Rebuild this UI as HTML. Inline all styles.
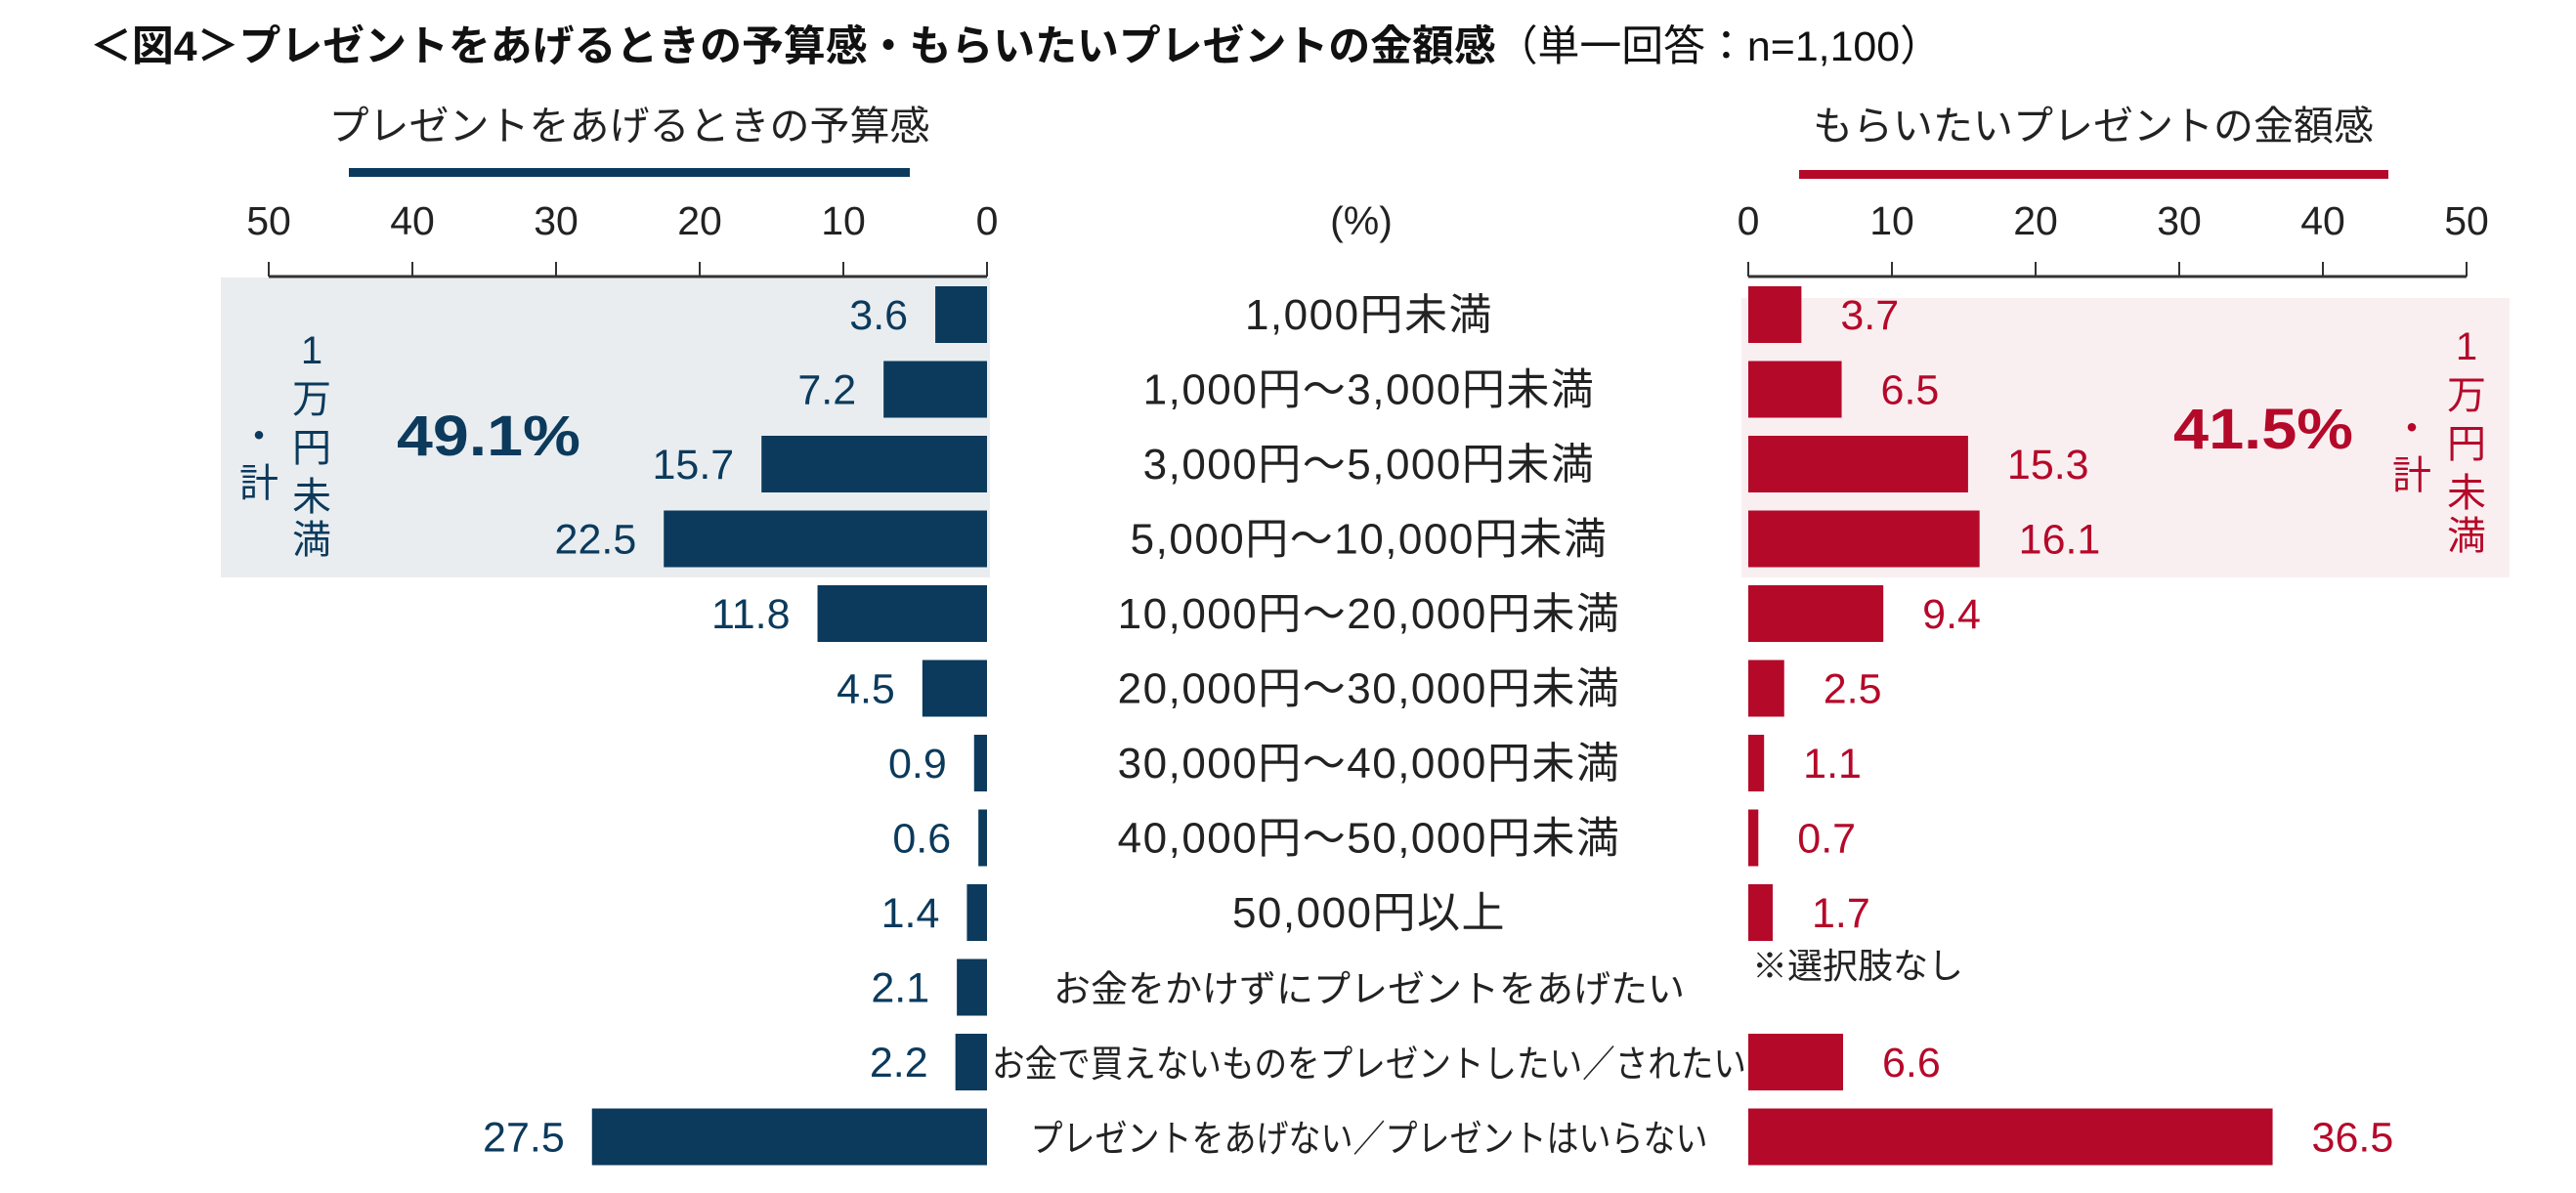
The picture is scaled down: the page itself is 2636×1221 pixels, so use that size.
<!DOCTYPE html>
<html><head><meta charset="utf-8">
<style>
html,body{margin:0;padding:0;background:#fff;}
svg{display:block;font-family:"Liberation Sans","Noto Sans CJK JP",sans-serif;}
</style></head>
<body>
<svg id="chart" width="2636" height="1221" viewBox="0 0 2636 1221" xmlns="http://www.w3.org/2000/svg">
  <text x="92" y="62" font-size="43" font-weight="bold" fill="#111" textLength="1895" lengthAdjust="spacingAndGlyphs">＜図4＞プレゼントをあげるときの予算感・もらいたいプレゼントの金額感<tspan font-weight="normal">（単一回答：n=1,100）</tspan></text>
  <rect x="226" y="284" width="787" height="307" fill="#e9edf0"/>
  <rect x="1782" y="305" width="786" height="286" fill="#f9eff1"/>
  <text x="644" y="143" font-size="41" text-anchor="middle" fill="#222">プレゼントをあげるときの予算感</text>
  <rect x="357" y="172" width="574" height="9" fill="#0b3a5c"/>
  <text x="2142" y="143" font-size="41" text-anchor="middle" fill="#222">もらいたいプレゼントの金額感</text>
  <rect x="1841" y="174" width="603" height="9" fill="#b5092a"/>
  <text x="1393" y="240" font-size="41" text-anchor="middle" fill="#222">(%)</text>
  <g id="axes"></g>
  <g id="bars"></g>
  <text x="406" y="466" font-size="58" font-weight="bold" fill="#0b3a5c" textLength="188" lengthAdjust="spacingAndGlyphs">49.1%</text>
  <text x="2224" y="459" font-size="58" font-weight="bold" fill="#b5092a" textLength="184" lengthAdjust="spacingAndGlyphs">41.5%</text>
  <g fill="#0b3a5c" font-size="40" text-anchor="middle">
    <text x="319" y="372">1</text><text x="319" y="422">万</text><text x="319" y="472">円</text><text x="319" y="522">未</text><text x="319" y="566">満</text>
    <text x="265" y="460">・</text><text x="265" y="508">計</text>
  </g>
  <g fill="#b5092a" font-size="40" text-anchor="middle">
    <text x="2524" y="368">1</text><text x="2524" y="418">万</text><text x="2524" y="468">円</text><text x="2524" y="518">未</text><text x="2524" y="562">満</text>
    <text x="2468" y="452">・</text><text x="2468" y="500">計</text>
  </g>
  <text x="1793" y="1001" font-size="36" fill="#222">※選択肢なし</text>
</svg>
<script>
const categories = ["1,000円未満","1,000円～3,000円未満","3,000円～5,000円未満","5,000円～10,000円未満","10,000円～20,000円未満","20,000円～30,000円未満","30,000円～40,000円未満","40,000円～50,000円未満","50,000円以上","お金をかけずにプレゼントをあげたい","お金で買えないものをプレゼントしたい／されたい","プレゼントをあげない／プレゼントはいらない"];
const budgetValues = [3.6,7.2,15.7,22.5,11.8,4.5,0.9,0.6,1.4,2.1,2.2,27.5];
const wantValues = [3.7,6.5,15.3,16.1,9.4,2.5,1.1,0.7,1.7,null,6.6,36.5];
const tickValues = [0,10,20,30,40,50];

const NS="http://www.w3.org/2000/svg";
const leftZero=1010, rightZero=1789, pxPerUnit=14.7;
const xLeft=v=>leftZero - v*pxPerUnit;
const xRight=v=>rightZero + v*pxPerUnit;
const rowTop=i=>293 + i*76.5;
const barH=58;
function mk(tag,attrs,parent,txt){const e=document.createElementNS(NS,tag);for(const k in attrs)e.setAttribute(k,attrs[k]);if(txt!==undefined)e.textContent=txt;parent.appendChild(e);return e;}
const axes=document.getElementById('axes'), bars=document.getElementById('bars');

let la=mk('line',{x1:xLeft(50),x2:xLeft(0),y1:283,y2:283,stroke:'#333','stroke-width':3},axes);


let ra=mk('line',{x1:xRight(0),x2:xRight(50),y1:283,y2:283,stroke:'#333','stroke-width':3},axes);


tickValues.forEach(t=>{
  let a=mk('line',{x1:xLeft(t),x2:xLeft(t),y1:268,y2:283,stroke:'#333','stroke-width':2},axes);
  
  
  let b=mk('text',{x:xLeft(t),y:240,'font-size':41,'text-anchor':'middle',fill:'#222'},axes,String(t));
  
  
  let c=mk('line',{x1:xRight(t),x2:xRight(t),y1:268,y2:283,stroke:'#333','stroke-width':2},axes);
  
  
  let d=mk('text',{x:xRight(t),y:240,'font-size':41,'text-anchor':'middle',fill:'#222'},axes,String(t));
  
  
});

categories.forEach((cat,i)=>{
  const y=rowTop(i), cy=y+barH/2;
  const numeric=/\d/.test(cat);
  const lbl=mk('text',{x:1401,y:cy+15,'font-size':numeric?44:37,'text-anchor':'middle',fill:'#222'},bars,cat);
  if(numeric){lbl.setAttribute('letter-spacing','1.5');}
  if(i===10){lbl.setAttribute('textLength',772);lbl.setAttribute('lengthAdjust','spacingAndGlyphs');lbl.setAttribute('font-size',38);}
  if(i===11){lbl.setAttribute('textLength',693);lbl.setAttribute('lengthAdjust','spacingAndGlyphs');lbl.setAttribute('font-size',38);}
  if(i===9){lbl.setAttribute('font-size',38);}
  
  
  const v=budgetValues[i];
  const r=mk('rect',{x:xLeft(v),y:y,width:leftZero-xLeft(v),height:barH,fill:'#0b3a5c'},bars);
  
  
  const t=mk('text',{x:xLeft(v)-28,y:cy+15,'font-size':43,'text-anchor':'end',fill:'#0b3a5c'},bars,v.toFixed(1));
  
  
  const w=wantValues[i];
  if(w!==null){
    const r2=mk('rect',{x:rightZero,y:y,width:xRight(w)-rightZero,height:barH,fill:'#b5092a'},bars);
    
    
    const t2=mk('text',{x:xRight(w)+40,y:cy+15,'font-size':43,fill:'#b5092a'},bars,w.toFixed(1));
    
    
  }
});
</script>
</body></html>
